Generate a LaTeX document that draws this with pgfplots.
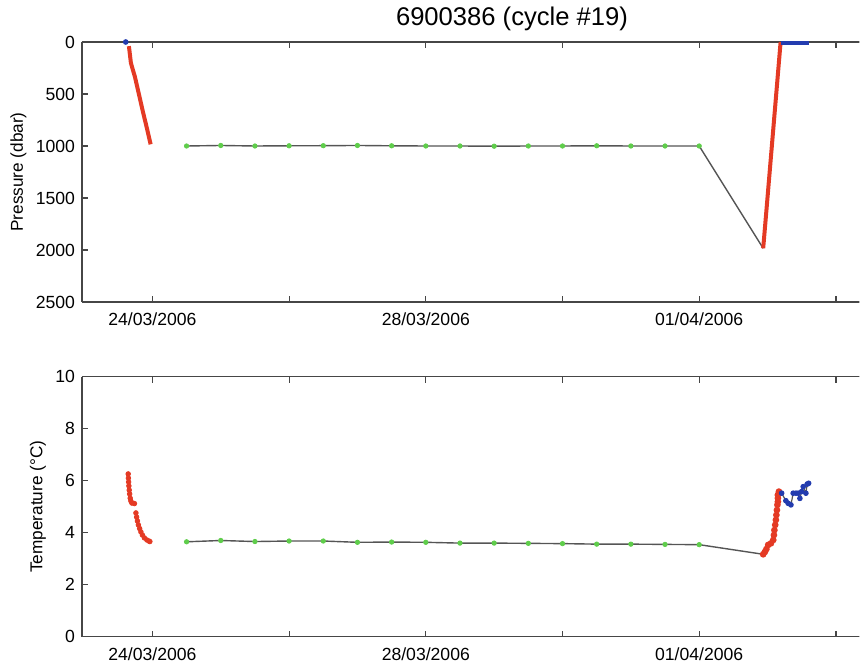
\documentclass[border=0pt]{standalone}
\usepackage{fontspec}
\setmainfont{Liberation Sans}
\usepackage{pgfplots}
\pgfplotsset{compat=1.18}
\definecolor{pred}{RGB}{228,58,36}
\definecolor{pgreen}{RGB}{95,205,75}
\definecolor{pblue}{RGB}{35,60,175}
\definecolor{pgray}{RGB}{85,85,85}
\definecolor{axgray}{RGB}{70,70,70}
\pgfplotsset{
  myaxis/.style={
    scale only axis, width=445.3bp, height=130bp,
    xmin=-1.03, xmax=12, clip=false,
    axis y line*=left,
    xtick={0,2,4,6,8,10},
    xticklabels={24/03/2006,,28/03/2006,,01/04/2006,},
    tick align=inside, major tick length=3bp,
    axis line style={axgray, line width=0.6bp},
    every tick/.style={axgray, line width=0.6bp},
    ticklabel style={font=\fontsize{8.8bp}{10bp}\selectfont, text=black},
    xticklabel style={yshift=-2bp},
    label style={font=\fontsize{8.6bp}{10bp}\selectfont, text=black},
    /pgf/number format/assume math mode=true,
    /pgf/number format/1000 sep={},
  }
}
\begin{document}
\begin{tikzpicture}
\path[use as bounding box] (0,0) rectangle (430bp,331.5bp);
\clip (0,0) rectangle (429.7bp,331.5bp);
% top: pressure
\begin{axis}[myaxis, at={(41bp,180.5bp)}, anchor=south west,
  y dir=reverse, ymin=0, ymax=2500, ytick={0,500,1000,1500,2000,2500},
  ylabel={Pressure (dbar)},
  ylabel style={at={(rel axis cs:0,0.5)}, anchor=center, yshift=31.85bp},
  scaled y ticks=false]
\addplot[pblue, only marks, mark=*, mark size=1.2bp] coordinates {(-0.39,0)};
\addplot[pred, line width=2bp] coordinates {
 (-0.344,40) (-0.329,120) (-0.315,200) (-0.285,270) (-0.256,334)
 (-0.198,500) (-0.139,670) (-0.080,830) (-0.026,984)};
\addplot[pgray, line width=0.7bp] coordinates {
 (0.5,1000) (1.0,995) (1.5,1000) (2.0,998) (2.5,997) (3.0,995) (3.5,998) (4.0,1000)
 (4.5,1000) (5.0,1002) (5.5,1000) (6.0,1000) (6.5,998) (7.0,1000) (7.5,1000) (8.0,1000)
 (8.936,1984)};
\addplot[pgreen, only marks, mark=*, mark size=1.1bp] coordinates {
 (0.5,1000) (1.0,995) (1.5,1000) (2.0,998) (2.5,997) (3.0,995) (3.5,998) (4.0,1000)
 (4.5,1000) (5.0,1002) (5.5,1000) (6.0,1000) (6.5,998) (7.0,1000) (7.5,1000) (8.0,1000)};
\addplot[pred, line width=2bp] coordinates {
 (8.936,1984) (8.96,1800) (9.0,1490) (9.05,1100) (9.10,710) (9.15,320) (9.191,0)};
\addplot[pblue, line width=2bp] coordinates {
 (9.191,8) (9.25,8) (9.30,8) (9.35,8) (9.40,8) (9.45,8) (9.50,8) (9.55,8) (9.61,8)};
\end{axis}
% bottom: temperature
\begin{axis}[myaxis, at={(41bp,13.15bp)}, anchor=south west,
  ymin=0, ymax=10, ytick={0,2,4,6,8,10},
  ylabel={Temperature (°C)},
  ylabel style={at={(rel axis cs:0,0.5)}, anchor=center, yshift=22bp}]
\addplot[pred, only marks, mark=*, mark size=1.15bp] coordinates {
 (-0.354,6.26) (-0.351,6.10) (-0.348,5.95) (-0.344,5.80) (-0.339,5.64) (-0.333,5.49)
 (-0.325,5.33) (-0.315,5.22) (-0.300,5.14) (-0.263,5.12) (-0.241,4.76) (-0.231,4.60)
 (-0.219,4.45) (-0.205,4.30) (-0.187,4.16) (-0.168,4.03) (-0.146,3.91) (-0.117,3.80)
 (-0.080,3.72) (-0.051,3.68) (-0.037,3.66)};
\addplot[pgray, line width=0.7bp] coordinates {
 (0.5,3.65) (1.0,3.70) (1.5,3.66) (2.0,3.68) (2.5,3.68) (3.0,3.63) (3.5,3.64) (4.0,3.63)
 (4.5,3.60) (5.0,3.60) (5.5,3.59) (6.0,3.58) (6.5,3.56) (7.0,3.56) (7.5,3.55) (8.0,3.54)
 (8.936,3.17)};
\addplot[pgreen, only marks, mark=*, mark size=1.1bp] coordinates {
 (0.5,3.65) (1.0,3.70) (1.5,3.66) (2.0,3.68) (2.5,3.68) (3.0,3.63) (3.5,3.64) (4.0,3.63)
 (4.5,3.60) (5.0,3.60) (5.5,3.59) (6.0,3.58) (6.5,3.56) (7.0,3.56) (7.5,3.55) (8.0,3.54)};
\addplot[pred, line width=1bp, mark=*, mark size=1.15bp] coordinates {
 (8.936,3.17) (8.961,3.26) (8.983,3.37) (9.009,3.53) (9.049,3.59) (9.083,3.72)
 (9.093,3.91) (9.100,4.10) (9.112,4.30) (9.122,4.49) (9.129,4.68) (9.137,4.87)
 (9.144,5.07) (9.151,5.19) (9.151,5.33) (9.151,5.45) (9.166,5.58)};
\addplot[pgray, line width=0.6bp, mark=*, mark size=1.1bp, mark options={pblue, fill=pblue, draw=pblue}] coordinates {
 (9.206,5.52) (9.268,5.23) (9.302,5.13) (9.342,5.07) (9.375,5.52) (9.415,5.52)
 (9.448,5.52) (9.473,5.32) (9.498,5.58) (9.522,5.77) (9.561,5.52) (9.580,5.87) (9.601,5.90)};
\end{axis}
\node[font=\fontsize{12.8bp}{15bp}\selectfont, text=black] at (256bp,322bp) {6900386 (cycle \#19)};
\end{tikzpicture}
\end{document}
